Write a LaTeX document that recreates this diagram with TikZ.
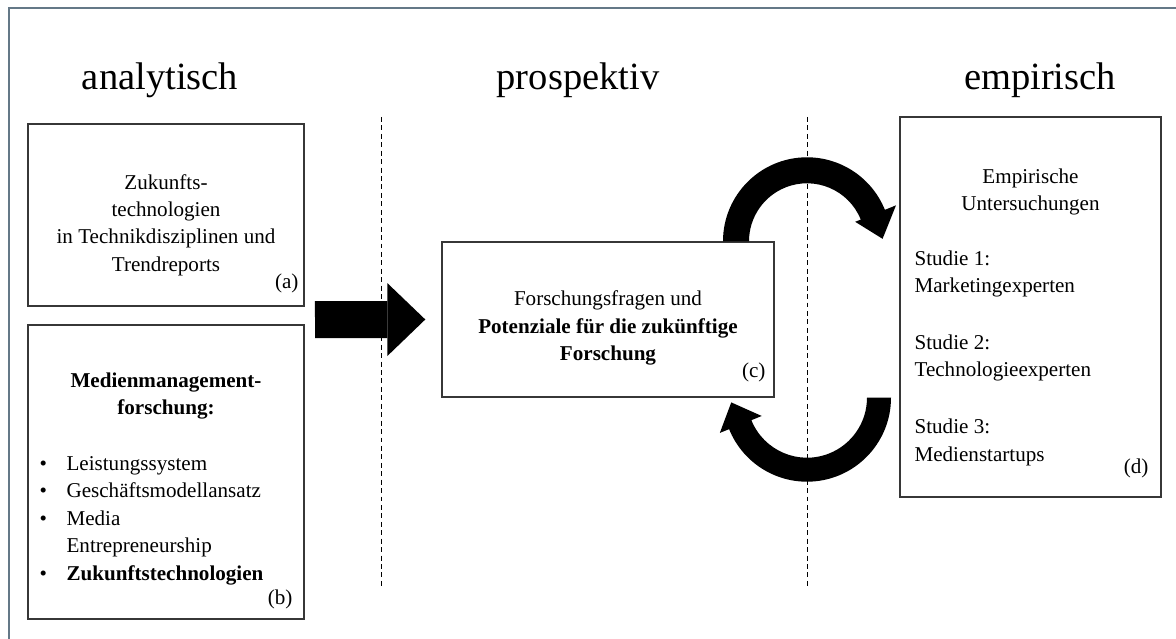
\documentclass[tikz,border=0pt]{standalone}
\usepackage{fontspec}
\setmainfont{Liberation Serif}
\usepackage{tikz}
\usetikzlibrary{positioning, calc, arrows.meta}
\definecolor{framegray}{RGB}{100,120,135}
\definecolor{boxgray}{RGB}{55,55,55}
\newcommand{\bodyfont}{\fontsize{15}{19.5}\selectfont}
\newcommand{\itembul}{\makebox[0.675cm][l]{\textbullet}}
\tikzset{
  box/.style   = {rectangle, draw=boxgray, line width=1pt, inner sep=0pt},
  txt/.style   = {inner sep=0pt, font=\bodyfont, align=center},
  tag/.style   = {anchor=south east, inner sep=0pt, font=\bodyfont},
  head/.style  = {anchor=base, inner sep=0pt, font=\fontsize{27.4}{32}\selectfont},
  sepline/.style = {line width=0.7pt, dash pattern=on 3.5pt off 2.5pt},
  bigarrow/.style = {line width=0.925cm,
                  -{Triangle[length=0.95cm, width=1.825cm, line width=0pt]}},
}

\begin{document}
\begin{tikzpicture}
  \useasboundingbox (0,0) rectangle (29.4,-15.975);
  % frame
  \draw[framegray, line width=1.4pt] (29.4,-0.2) -- (0.225,-0.2) -- (0.225,-15.975);

  % column heads
  \node[head] (hana) at (4.0,-2.25)   {analytisch};
  \node[head] (hpro) at (14.45,-2.25) {prospektiv};
  \node[head] (hemp) at (26.0,-2.25)  {empirisch};

  % separators
  \coordinate (s1top) at (9.525,-2.925);
  \coordinate (s1bot) at (9.525,-14.675);
  \coordinate (s2top) at (20.175,-2.925);
  \coordinate (s2bot) at (20.175,-14.675);
  \draw[sepline] (s1top) -- (s1bot);
  \draw[sepline] (s2top) -- (s2bot);

  % analytisch
  \node[box, minimum width=6.9cm, minimum height=4.55cm] (a) at (4.15,-5.375) {};
  \node[txt] (atext) at ([yshift=-0.25cm]a.center)
    {Zukunfts-\\technologien\\in Technikdisziplinen und\\Trendreports};
  \node[tag] (taga) at ([xshift=-0.15cm, yshift=0.325cm]a.south east) {(a)};

  \node[box, minimum width=6.9cm, minimum height=7.35cm] (b) at (4.15,-11.8) {};
  \node[txt, anchor=north, font=\bodyfont\bfseries] (btitle) at ([yshift=-1.2cm]b.north)
    {Medienmanagement-\\forschung:};
  \node[txt, align=left, anchor=north west] (blist) at ([xshift=0.3cm, yshift=-3.3cm]b.north west)
    {\itembul Leistungssystem\\
     \itembul Geschäftsmodellansatz\\
     \itembul Media\\
     \hspace*{0.675cm}Entrepreneurship\\
     \itembul\textbf{Zukunftstechnologien}};
  \node[tag] (tagb) at ([xshift=-0.3cm, yshift=0.25cm]b.south east) {(b)};

  % prospektiv
  \node[box, minimum width=8.3cm, minimum height=3.875cm] (c) at (15.2,-7.9875) {};
  \node[txt] (ctext) at ([yshift=-0.22cm]c.center)
    {Forschungsfragen und\\\textbf{Potenziale für die zukünftige}\\\textbf{Forschung}};
  \node[tag] (tagc) at ([xshift=-0.225cm, yshift=0.375cm]c.south east) {(c)};

  % empirisch
  \node[box, minimum width=6.525cm, minimum height=9.5cm] (d) at (25.7625,-7.675) {};
  \node[txt, anchor=north] (dtitle) at ([yshift=-1.3cm]d.north) {Empirische\\Untersuchungen};
  \node[txt, align=left, anchor=north west] (dlist) at ([xshift=0.375cm, yshift=-3.35cm]d.north west)
    {Studie 1:\\Marketingexperten\\[21pt]
     Studie 2:\\Technologieexperten\\[21pt]
     Studie 3:\\Medienstartups};
  \node[tag] (tagd) at ([xshift=-0.325cm, yshift=0.475cm]d.south east) {(d)};

  % big arrow a/b -> c
  \coordinate (arrstart) at (7.875,-7.99);
  \draw[bigarrow] (arrstart) -- ([xshift=-0.4cm]c.west);

  % cycle c <-> d
  \coordinate (cyc1) at (c.north -| s2top);
  \coordinate (cyc2) at (c.south -| s2top);
  \fill (cyc1) ++(180:2.1) arc[start angle=180, end angle=22, radius=2.1]
    -- ($(cyc1)+(22:2.4)$) -- ($(cyc1)+(22:1.775)+(-68:0.65)$)
    -- ($(cyc1)+(22:1.3)$) -- ($(cyc1)+(22:1.45)$)
    arc[start angle=22, end angle=180, radius=1.45] -- cycle;
  \fill (cyc2) ++(0:2.1) arc[start angle=0, end angle=-158, radius=2.1]
    -- ($(cyc2)+(-158:2.35)$) -- ($(cyc2)+(-158:1.8)+(112:0.6)$)
    -- ($(cyc2)+(-158:1.22)$) -- ($(cyc2)+(-158:1.5)$)
    arc[start angle=-158, end angle=0, radius=1.5] -- cycle;
\end{tikzpicture}
\end{document}
